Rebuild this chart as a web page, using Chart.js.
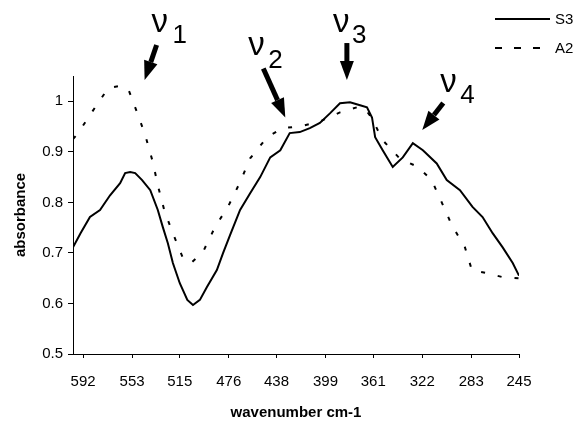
<!DOCTYPE html>
<html lang="en">
<head>
  <meta charset="UTF-8">
  <title>Absorbance spectra S3 / A2</title>
  <script src="https://cdn.jsdelivr.net/npm/chart.js"></script>
  <style>
    html, body { margin: 0; padding: 0; background: #fff; }
    #wrap { position: relative; width: 575px; height: 422px; }
  </style>
</head>
<body>
  <div id="wrap">
    <canvas id="spectrum" width="575" height="422"></canvas>
  </div>

  <script>
    // wavenumber (cm-1) and absorbance
    const s3Wave = [600, 594, 586.5, 578.5, 570.5, 562.5, 558.5, 554.5, 550.5, 545, 538.5, 532.5, 528.5, 524.5, 520.5, 515, 509, 504.5, 499, 493.5, 485.5, 480.5, 475, 467, 459, 451, 443, 435, 427.5, 419.5, 411.5, 403.5, 395.5, 387.5, 379.5, 371.5, 366, 362, 359.5, 353.5, 345.5, 337.5, 329.5, 321.5, 310.5, 302.5, 292, 282, 274, 266, 258, 250, 246, 245];
    const s3Abs  = [0.711, 0.739, 0.771, 0.785, 0.814, 0.838, 0.858, 0.86, 0.858, 0.844, 0.824, 0.785, 0.751, 0.719, 0.68, 0.64, 0.607, 0.597, 0.607, 0.632, 0.666, 0.7, 0.735, 0.785, 0.818, 0.85, 0.889, 0.903, 0.937, 0.939, 0.947, 0.957, 0.976, 0.996, 0.998, 0.992, 0.988, 0.968, 0.929, 0.903, 0.87, 0.889, 0.917, 0.903, 0.877, 0.844, 0.824, 0.791, 0.771, 0.739, 0.711, 0.68, 0.66, 0.655];

    const a2Wave = [600, 596, 584, 572, 564, 556, 549, 542.5, 536.5, 532.5, 527, 520.5, 512.5, 506, 496.5, 487, 476.5, 467, 459, 445.5, 433, 419.5, 403.5, 387.5, 374, 367.5, 362, 353.5, 340, 325.5, 314.5, 306.5, 298.5, 288, 282.5, 270.5, 258, 245];
    const a2Abs  = [0.925, 0.937, 0.982, 1.026, 1.03, 1.024, 0.978, 0.933, 0.88, 0.834, 0.781, 0.739, 0.69, 0.68, 0.702, 0.751, 0.792, 0.84, 0.887, 0.929, 0.947, 0.95, 0.96, 0.978, 0.988, 0.985, 0.966, 0.923, 0.887, 0.87, 0.844, 0.8, 0.755, 0.711, 0.666, 0.66, 0.652, 0.65];

    const xTickLabels = [592, 553, 515, 476, 438, 399, 361, 322, 283, 245];

    // band labels: arrow tip in data units
    const bandNames = ['1', '2', '3', '4'];
    const bandTipWave = [543, 431, 382, 322];
    const bandTipAbs  = [1.042, 0.968, 1.042, 0.943];

    // arrow tail / text offsets from the tip, in pixels
    const bandLayout = [
      { tail: [12, -35], nu: [7, -48],   sub: [28, -37] },
      { tail: [-22, -49], nu: [-37, -62], sub: [-17, -49] },
      { tail: [0, -37],  nu: [-14, -48], sub: [5, -37] },
      { tail: [21, -27], nu: [18, -38],  sub: [38, -27] }
    ];

    const toPoints = (xs, ys) => xs.map((x, i) => ({ x: x, y: ys[i] }));

    function drawArrow(ctx, x0, y0, x1, y1) {
      const ang = Math.atan2(y1 - y0, x1 - x0);
      const head = 19, half = 7;
      const bx = x1 - head * Math.cos(ang), by = y1 - head * Math.sin(ang);
      ctx.beginPath();
      ctx.lineWidth = 5;
      ctx.lineCap = 'butt';
      ctx.moveTo(x0, y0);
      ctx.lineTo(bx, by);
      ctx.stroke();
      ctx.beginPath();
      ctx.moveTo(x1, y1);
      ctx.lineTo(bx + half * Math.sin(ang), by - half * Math.cos(ang));
      ctx.lineTo(bx - half * Math.sin(ang), by + half * Math.cos(ang));
      ctx.closePath();
      ctx.fill();
    }

    const extras = {
      id: 'extras',
      afterDraw(chart) {
        const ctx = chart.ctx;
        const xs = chart.scales.x, ys = chart.scales.y;
        ctx.save();
        ctx.strokeStyle = '#000';
        ctx.fillStyle = '#000';

        // band arrows and labels
        bandNames.forEach((name, i) => {
          const tx = xs.getPixelForValue(bandTipWave[i]);
          const ty = ys.getPixelForValue(bandTipAbs[i]);
          const L = bandLayout[i];
          drawArrow(ctx, tx + L.tail[0], ty + L.tail[1], tx, ty);
          ctx.textAlign = 'left';
          ctx.textBaseline = 'alphabetic';
          ctx.font = '33px "Liberation Sans", Arial, sans-serif';
          ctx.fillText('\u03BD', tx + L.nu[0], ty + L.nu[1]);
          ctx.font = '26px "Liberation Sans", Arial, sans-serif';
          ctx.fillText(name, tx + L.sub[0], ty + L.sub[1]);
        });

        // legend, top right
        chart.data.datasets.forEach((ds, i) => {
          const y = 19 + i * 29;
          ctx.beginPath();
          ctx.lineWidth = 2;
          ctx.setLineDash(ds.label === 'A2' ? [7, 12] : []);
          ctx.moveTo(495, y);
          ctx.lineTo(550, y);
          ctx.stroke();
          ctx.setLineDash([]);
          ctx.font = '15px "Liberation Sans", Arial, sans-serif';
          ctx.textBaseline = 'middle';
          ctx.textAlign = 'left';
          ctx.fillText(ds.label, 555, y + 1);
        });
        ctx.restore();
      }
    };

    Chart.defaults.color = '#000';
    Chart.defaults.font.family = '"Liberation Sans", Arial, sans-serif';

    new Chart(document.getElementById('spectrum'), {
      type: 'line',
      data: {
        datasets: [
          {
            label: 'S3',
            data: toPoints(s3Wave, s3Abs),
            borderColor: '#000',
            borderWidth: 2,
            pointRadius: 0,
            fill: false,
            tension: 0
          },
          {
            label: 'A2',
            data: toPoints(a2Wave, a2Abs),
            borderColor: '#000',
            borderWidth: 2,
            borderDash: [4, 13],
            pointRadius: 0,
            fill: false,
            tension: 0
          }
        ]
      },
      options: {
        responsive: false,
        animation: false,
        layout: { padding: { top: 76, right: 56, left: 0, bottom: 0 } },
        plugins: {
          legend: { display: false },
          tooltip: { enabled: false }
        },
        scales: {
          x: {
            type: 'linear',
            reverse: true,
            min: 245,
            max: 600,
            afterBuildTicks: s => { s.ticks = xTickLabels.map(v => ({ value: v })); },
            afterFit: s => { s.height = 68; },
            grid: { display: true, drawOnChartArea: false, drawTicks: true, tickLength: 4, color: '#000' },
            border: { display: true, color: '#000', width: 1 },
            ticks: {
              autoSkip: false,
              maxRotation: 0,
              padding: 15,
              font: { size: 15 },
              callback: v => String(v)
            },
            title: {
              display: true,
              text: 'wavenumber cm-1',
              font: { size: 15, weight: 'bold' },
              padding: { top: 0, bottom: 0 }
            }
          },
          y: {
            min: 0.5,
            max: 1.05,
            afterFit: s => { s.width = 73; },
            grid: { display: true, drawOnChartArea: false, drawTicks: true, tickLength: 5, color: '#000' },
            border: { display: true, color: '#000', width: 1 },
            ticks: {
              stepSize: 0.1,
              includeBounds: false,
              padding: 5,
              font: { size: 15 },
              callback: v => String(+v.toFixed(1))
            },
            title: {
              display: true,
              text: 'absorbance',
              font: { size: 15, weight: 'bold' },
              padding: { top: 12, bottom: 0 }
            }
          }
        }
      },
      plugins: [extras]
    });
  </script>
</body>
</html>
